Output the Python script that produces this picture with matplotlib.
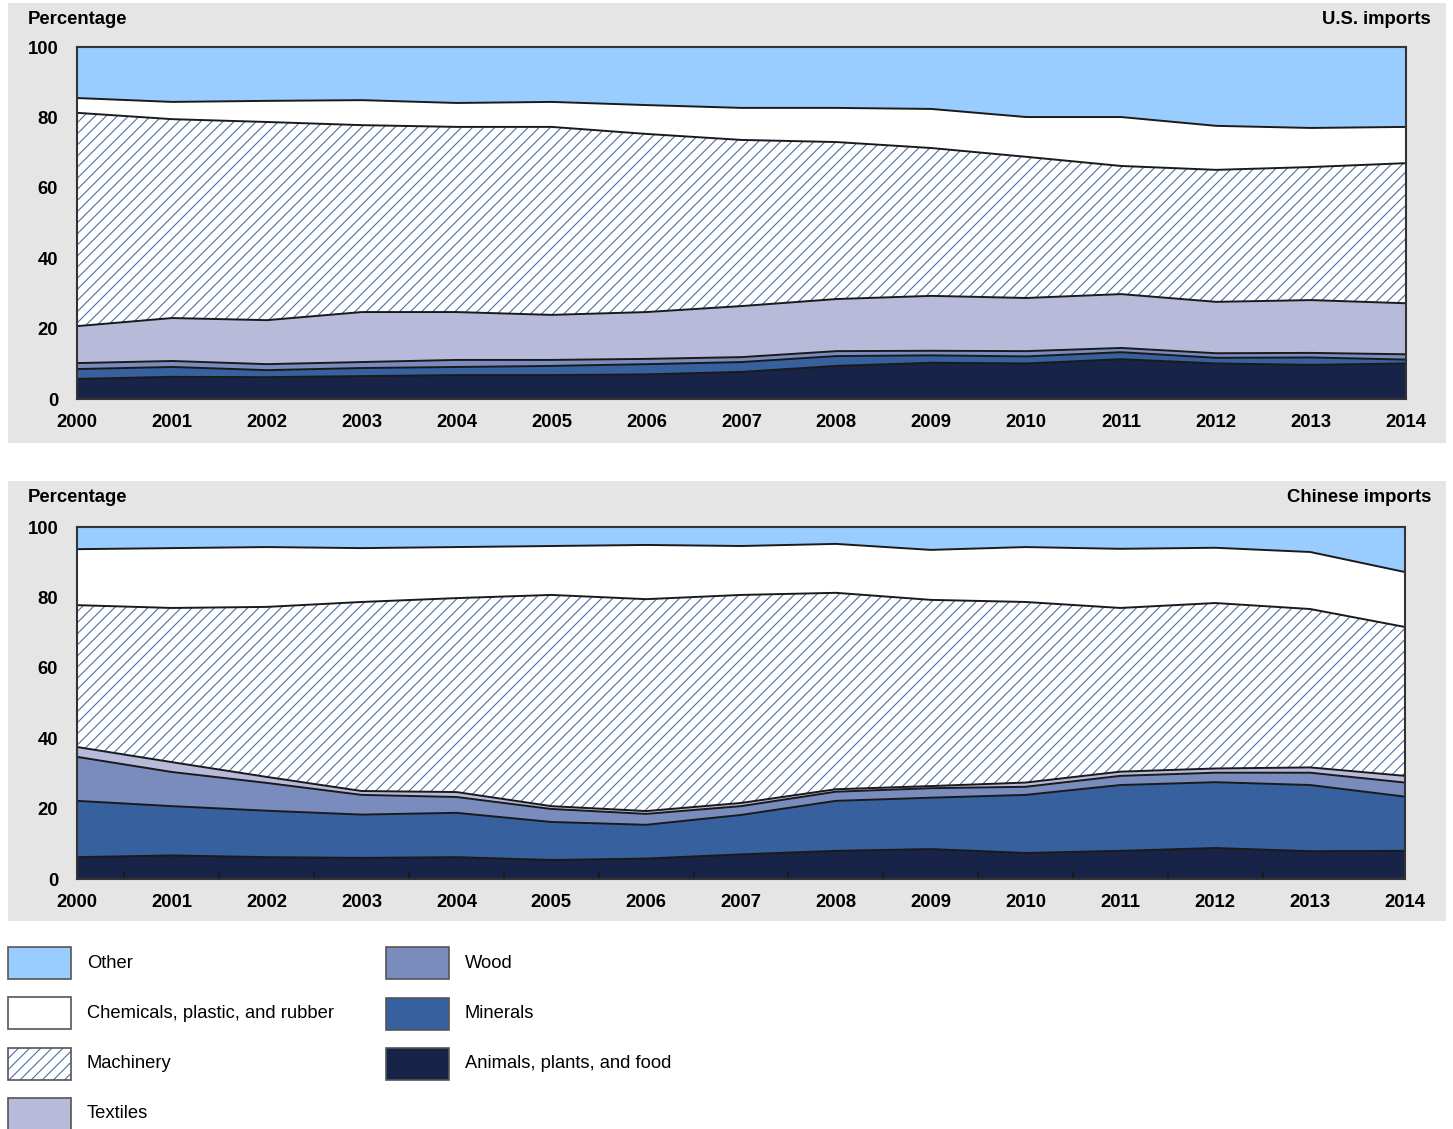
import matplotlib.pyplot as plt
import numpy as np
from matplotlib.patches import Rectangle

plt.rcParams['font.family'] = ['Liberation Sans', 'DejaVu Sans']
plt.rcParams['hatch.color'] = '#4f6fa6'
plt.rcParams['hatch.linewidth'] = 0.8

years = list(range(2000, 2015))
yticks = [0, 20, 40, 60, 80, 100]

# stacking order, bottom to top
categories = ["Animals, plants, and food", "Minerals", "Wood", "Textiles",
              "Machinery", "Chemicals, plastic, and rubber", "Other"]
colors = ["#182447", "#36609e", "#7a8bbd", "#b7bad9", "white", "white", "#99ccff"]
hatches = [None, None, None, None, "///", None, None]

# U.S. imports, percentage share
us_animals = [5.7, 6.3, 6.2, 6.5, 6.8, 6.8, 7.0, 7.7, 9.4, 10.3, 10.1, 11.3, 10.1, 9.7, 10.1]
us_minerals = [2.8, 2.8, 2.0, 2.3, 2.3, 2.6, 2.9, 2.8, 2.8, 2.1, 2.0, 2.0, 1.6, 2.1, 1.1]
us_wood = [1.7, 1.7, 1.7, 1.7, 2.0, 1.7, 1.5, 1.4, 1.4, 1.3, 1.5, 1.2, 1.3, 1.3, 1.5]
us_textiles = [10.5, 12.2, 12.5, 14.2, 13.6, 12.8, 13.3, 14.5, 14.8, 15.6, 15.1, 15.3, 14.6, 15.0, 14.5]
us_machinery = [60.6, 56.5, 56.3, 53.1, 52.6, 53.4, 50.6, 47.2, 44.6, 42.0, 40.1, 36.4, 37.5, 37.8, 39.8]
us_chemicals = [4.2, 4.9, 6.0, 7.1, 6.8, 7.1, 8.2, 9.1, 9.7, 11.1, 11.3, 13.9, 12.5, 11.1, 10.3]
us_other = [14.5, 15.6, 15.3, 15.1, 15.9, 15.6, 16.5, 17.3, 17.3, 17.6, 19.9, 19.9, 22.4, 23.0, 22.7]

# Chinese imports, percentage share
cn_animals = [6.2, 6.7, 6.2, 6.0, 6.2, 5.4, 5.8, 7.0, 8.0, 8.5, 7.4, 8.0, 8.8, 7.9, 8.0]
cn_minerals = [16.0, 14.0, 13.2, 12.3, 12.6, 10.8, 9.6, 11.2, 14.2, 14.6, 16.5, 18.7, 18.7, 18.8, 15.4]
cn_wood = [12.5, 9.7, 7.9, 5.6, 4.5, 3.7, 3.1, 2.5, 2.6, 2.7, 2.3, 2.6, 2.7, 3.5, 4.0]
cn_textiles = [2.8, 2.8, 1.7, 1.1, 1.4, 0.8, 0.8, 0.9, 0.7, 0.6, 1.2, 1.2, 1.2, 1.5, 1.9]
cn_machinery = [40.3, 43.8, 48.3, 53.7, 55.1, 60.0, 60.2, 59.1, 55.8, 52.9, 51.3, 46.5, 47.0, 45.0, 42.3]
cn_chemicals = [15.9, 17.0, 17.0, 15.3, 14.5, 13.9, 15.4, 13.9, 13.9, 14.2, 15.6, 16.8, 15.7, 16.2, 15.6]
cn_other = [6.3, 6.0, 5.7, 6.0, 5.7, 5.4, 5.1, 5.4, 4.8, 6.5, 5.7, 6.2, 5.9, 7.1, 12.8]

us_series = [us_animals, us_minerals, us_wood, us_textiles, us_machinery, us_chemicals, us_other]
cn_series = [cn_animals, cn_minerals, cn_wood, cn_textiles, cn_machinery, cn_chemicals, cn_other]

W, H = 1453, 1129
fig = plt.figure(figsize=(W / 100, H / 100), dpi=100)

# background panels + legend drawn in pixel coordinates
bg = fig.add_axes([0, 0, 1, 1], zorder=-1)
bg.set_xlim(0, W)
bg.set_ylim(H, 0)
bg.axis('off')
bg.add_patch(Rectangle((8, 3), 1438, 440, fc='#e5e5e5', ec='none'))
bg.add_patch(Rectangle((8, 481), 1438, 440, fc='#e5e5e5', ec='none'))


def px_axes(left, top, right, bottom):
    return fig.add_axes([left / W, 1 - bottom / H, (right - left) / W, (bottom - top) / H])


def stacked(ax, series):
    x = np.array(years)
    base = np.zeros(len(years))
    for vals, col, hat in zip(series, colors, hatches):
        top = base + np.array(vals)
        if hat:
            ax.fill_between(x, base, top, facecolor=col, edgecolor='#4f6fa6',
                            hatch=hat, linewidth=0)
        else:
            ax.fill_between(x, base, top, facecolor=col, linewidth=0)
        base = top
    base = np.zeros(len(years))
    for vals in series[:-1]:
        base = base + np.array(vals)
        ax.plot(x, base, color='#1a1a1a', lw=1.4)
    ax.set_xlim(2000, 2014)
    ax.set_ylim(0, 100)
    ax.set_xticks(years)
    ax.set_yticks(yticks)
    ax.tick_params(axis='both', length=0, labelsize=13.3)
    ax.tick_params(axis='x', pad=11)
    ax.tick_params(axis='y', pad=13.5)
    for lab in ax.get_xticklabels() + ax.get_yticklabels():
        lab.set_fontweight('bold')
    for sp in ax.spines.values():
        sp.set_color('#333333')
        sp.set_linewidth(1.5)
        sp.set_zorder(5)


ax1 = px_axes(77, 47, 1406, 399)
stacked(ax1, us_series)

ax2 = px_axes(77, 527, 1405, 879)
stacked(ax2, cn_series)
ax2.set_xticks([y + 0.5 for y in years[:-2]] + [2013], minor=True)
ax2.tick_params(axis='x', which='minor', direction='in', length=6, width=1.5,
                color='#1a1a1a')

bg.text(28, 20, "Percentage", fontsize=13.3, fontweight='bold', va='center', ha='left')
bg.text(1431, 20, "U.S. imports", fontsize=13.3, fontweight='bold', va='center', ha='right')
bg.text(28, 497, "Percentage", fontsize=13.3, fontweight='bold', va='center', ha='left')
bg.text(1431, 497, "Chinese imports", fontsize=13.3, fontweight='bold', va='center', ha='right')

# legend, two columns
leg_order = [6, 5, 4, 3, 2, 1, 0]
leg_pos = [(8, 947), (8, 997), (8, 1048), (8, 1098), (386, 947), (386, 998), (386, 1048)]
for idx, (lx, ly) in zip(leg_order, leg_pos):
    if hatches[idx]:
        bg.add_patch(Rectangle((lx, ly), 63, 32, fc='white', ec='#4f6fa6',
                               hatch=hatches[idx], lw=0))
    else:
        bg.add_patch(Rectangle((lx, ly), 63, 32, fc=colors[idx], ec='none'))
    bg.add_patch(Rectangle((lx, ly), 63, 32, fc='none', ec='#555555', lw=1.2))
    bg.text(lx + 79, ly + 16, categories[idx], fontsize=13.2, va='center', ha='left')

fig.savefig("out.png", dpi=100)
